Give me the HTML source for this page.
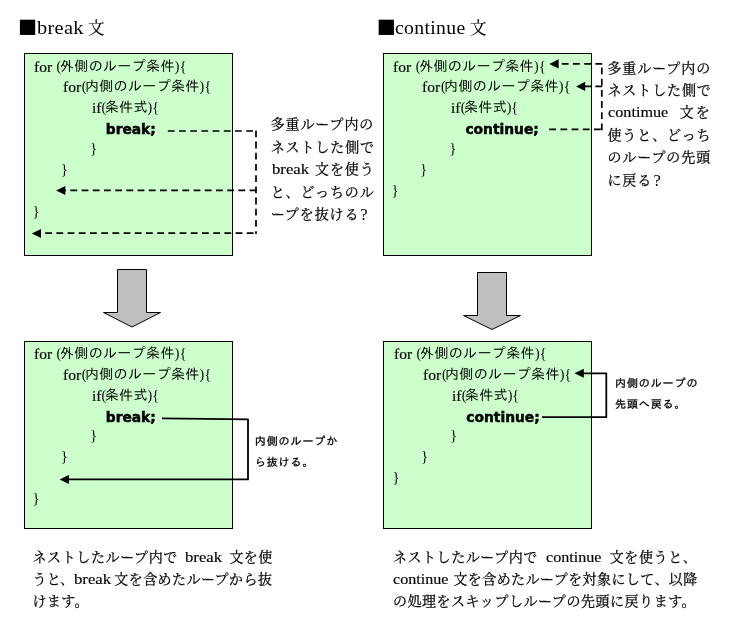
<!DOCTYPE html>
<html lang="ja">
<head>
<meta charset="utf-8">
<title>break 文 / continue 文</title>
<style>
html,body{margin:0;padding:0;background:#fff;}
body{width:732px;height:630px;position:relative;overflow:hidden;color:#000;
  font-family:"Liberation Serif","Noto Serif CJK SC",serif;}
.box{position:absolute;box-sizing:border-box;border:1px solid #000;background:#ccffcc;}
.txt{position:absolute;left:0;top:0;width:732px;height:630px;will-change:transform;}
.grp{position:absolute;left:0;top:0;width:0;height:0;}
.ln{position:absolute;white-space:pre;height:16px;width:0;}
.ln span{position:absolute;top:0;white-space:pre;line-height:16px;transform-origin:0 0;}
.hd{position:absolute;white-space:pre;height:20px;width:0;}
.hd span{position:absolute;top:0;line-height:20px;white-space:pre;transform-origin:0 0;}
.hs{font-family:"IPAGothic","Noto Sans CJK JP",sans-serif;font-size:20.6px;}
.hl{font-family:"Liberation Serif",serif;font-size:18px;letter-spacing:.3px;}
.hj{font-family:"Liberation Serif","Noto Serif CJK SC",serif;font-size:16.5px;-webkit-text-stroke:.2px #000;}
.cl{font-family:"Liberation Serif",serif;font-size:14.5px;transform:scaleX(1.07);-webkit-text-stroke:.15px #000;}
.cp{font-family:"Liberation Serif",serif;font-size:14px;}
.cj{font-family:"Liberation Serif","IPAGothic","Noto Sans CJK JP",sans-serif;font-size:14px;letter-spacing:.35px;}
.ck{font-family:"DejaVu Sans","Liberation Sans",sans-serif;font-weight:bold;font-size:13.8px;-webkit-text-stroke:.5px #000;}
.mj{font-family:"Liberation Serif","Noto Serif CJK SC",serif;font-size:14px;letter-spacing:.43px;-webkit-text-stroke:.25px #000;}
.nj{font-family:"Liberation Serif","Noto Serif CJK SC",serif;font-size:14px;letter-spacing:.9px;-webkit-text-stroke:.25px #000;}
.ml{font-family:"Liberation Serif",serif;font-size:14px;transform:scaleX(1.16);-webkit-text-stroke:.15px #000;}
.sj{font-family:"Liberation Sans","IPAGothic","Noto Sans CJK JP",sans-serif;font-size:11px;letter-spacing:.9px;-webkit-text-stroke:.3px #000;}
svg{position:absolute;left:0;top:0;}
</style>
</head>
<body>
<div class="box" style="left:24px;top:53px;width:209px;height:203px;"></div>
<div class="box" style="left:383px;top:53px;width:209px;height:203px;"></div>
<div class="box" style="left:24px;top:341px;width:209px;height:188px;"></div>
<div class="box" style="left:383px;top:341px;width:209px;height:188px;"></div>
<div class="txt">
<div class="grp heading">
<div class="hd" style="left:0;top:18px;"><span class="hs" style="left:17.2px;top:-1px;">■</span><span class="hl" style="left:36.6px;transform:scaleX(1.13);">break </span><span class="hj" style="left:88.1px;top:.5px;">文</span></div>
</div>
<div class="grp heading">
<div class="hd" style="left:0;top:18px;"><span class="hs" style="left:376.0px;top:-1px;">■</span><span class="hl" style="left:394.55px;transform:scaleX(1.095);">continue </span><span class="hj" style="left:469.9px;top:.5px;">文</span></div>
</div>
<div class="grp code">
<div class="ln" style="left:0;top:59px;"><span class="cl" style="left:33.85px;">for </span><span class="cp" style="left:56.5px;">(</span><span class="cj" style="left:59.95px;">外側のループ条件</span><span class="cp" style="left:174.8px;">)</span><span class="cp" style="left:179.75px;">{</span></div>
<div class="ln" style="left:0;top:79px;"><span class="cl" style="left:62.55px;">for</span><span class="cp" style="left:81.8px;">(</span><span class="cj" style="left:84.9px;">内側のループ条件</span><span class="cp" style="left:199.6px;">)</span><span class="cp" style="left:204.45px;">{</span></div>
<div class="ln" style="left:0;top:100px;"><span class="cl" style="left:92.25px;">if</span><span class="cp" style="left:101.6px;">(</span><span class="cj" style="left:104.75px;">条件式</span><span class="cp" style="left:147.6px;">)</span><span class="cp" style="left:152.15px;">{</span></div>
<div class="ln" style="left:0;top:121px;"><span class="ck" style="left:105.75px;">break;</span></div>
<div class="ln" style="left:0;top:141px;"><span class="cp" style="left:90.25px;">}</span></div>
<div class="ln" style="left:0;top:162px;"><span class="cp" style="left:61.05px;">}</span></div>
<div class="ln" style="left:0;top:203.5px;"><span class="cp" style="left:32.65px;">}</span></div>
</div>
<div class="grp code">
<div class="ln" style="left:0;top:59px;"><span class="cl" style="left:393.05px;">for </span><span class="cp" style="left:415.7px;">(</span><span class="cj" style="left:419.15px;">外側のループ条件</span><span class="cp" style="left:534.0px;">)</span><span class="cp" style="left:538.95px;">{</span></div>
<div class="ln" style="left:0;top:79px;"><span class="cl" style="left:421.75px;">for</span><span class="cp" style="left:441.0px;">(</span><span class="cj" style="left:444.1px;">内側のループ条件</span><span class="cp" style="left:558.8px;">)</span><span class="cp" style="left:563.65px;">{</span></div>
<div class="ln" style="left:0;top:100px;"><span class="cl" style="left:451.45px;">if</span><span class="cp" style="left:460.8px;">(</span><span class="cj" style="left:463.95px;">条件式</span><span class="cp" style="left:506.8px;">)</span><span class="cp" style="left:511.35px;">{</span></div>
<div class="ln" style="left:0;top:121px;"><span class="ck" style="left:465.45px;">continue;</span></div>
<div class="ln" style="left:0;top:141px;"><span class="cp" style="left:449.45px;">}</span></div>
<div class="ln" style="left:0;top:162px;"><span class="cp" style="left:420.25px;">}</span></div>
<div class="ln" style="left:0;top:183px;"><span class="cp" style="left:391.85px;">}</span></div>
</div>
<div class="grp code">
<div class="ln" style="left:0;top:346px;"><span class="cl" style="left:33.85px;">for </span><span class="cp" style="left:56.5px;">(</span><span class="cj" style="left:59.95px;">外側のループ条件</span><span class="cp" style="left:174.8px;">)</span><span class="cp" style="left:179.75px;">{</span></div>
<div class="ln" style="left:0;top:367px;"><span class="cl" style="left:62.55px;">for</span><span class="cp" style="left:81.8px;">(</span><span class="cj" style="left:84.9px;">内側のループ条件</span><span class="cp" style="left:199.6px;">)</span><span class="cp" style="left:204.45px;">{</span></div>
<div class="ln" style="left:0;top:388px;"><span class="cl" style="left:92.25px;">if</span><span class="cp" style="left:101.6px;">(</span><span class="cj" style="left:104.75px;">条件式</span><span class="cp" style="left:147.6px;">)</span><span class="cp" style="left:152.15px;">{</span></div>
<div class="ln" style="left:0;top:409px;"><span class="ck" style="left:105.75px;">break;</span></div>
<div class="ln" style="left:0;top:428px;"><span class="cp" style="left:90.25px;">}</span></div>
<div class="ln" style="left:0;top:449px;"><span class="cp" style="left:61.05px;">}</span></div>
<div class="ln" style="left:0;top:491px;"><span class="cp" style="left:32.65px;">}</span></div>
</div>
<div class="grp code">
<div class="ln" style="left:0;top:346px;"><span class="cl" style="left:393.95px;">for </span><span class="cp" style="left:416.6px;">(</span><span class="cj" style="left:420.05px;">外側のループ条件</span><span class="cp" style="left:534.9px;">)</span><span class="cp" style="left:539.85px;">{</span></div>
<div class="ln" style="left:0;top:367px;"><span class="cl" style="left:422.65px;">for</span><span class="cp" style="left:441.9px;">(</span><span class="cj" style="left:445.0px;">内側のループ条件</span><span class="cp" style="left:559.7px;">)</span><span class="cp" style="left:564.55px;">{</span></div>
<div class="ln" style="left:0;top:388px;"><span class="cl" style="left:452.35px;">if</span><span class="cp" style="left:461.7px;">(</span><span class="cj" style="left:464.85px;">条件式</span><span class="cp" style="left:507.7px;">)</span><span class="cp" style="left:512.25px;">{</span></div>
<div class="ln" style="left:0;top:409px;"><span class="ck" style="left:466.35px;">continue;</span></div>
<div class="ln" style="left:0;top:428px;"><span class="cp" style="left:450.35px;">}</span></div>
<div class="ln" style="left:0;top:449px;"><span class="cp" style="left:421.15px;">}</span></div>
<div class="ln" style="left:0;top:470px;"><span class="cp" style="left:392.75px;">}</span></div>
</div>
<div class="grp note">
<div class="ln" style="left:0;top:117px;"><span class="nj" style="left:270.65px;">多重ループ内の</span></div>
<div class="ln" style="left:0;top:140px;"><span class="nj" style="left:270.65px;">ネストした側で</span></div>
<div class="ln" style="left:0;top:162px;"><span class="ml" style="left:271.65px;transform:scaleX(1.195);">break </span><span class="nj" style="left:315.0px;">文を使う</span></div>
<div class="ln" style="left:0;top:185px;"><span class="nj" style="left:270.65px;">と、どっちのル</span></div>
<div class="ln" style="left:0;top:207px;"><span class="nj" style="left:270.65px;">ープを抜ける</span><span class="cp" style="left:360.15px;font-size:16.5px;">?</span></div>
</div>
<div class="grp note">
<div class="ln" style="left:0;top:61px;"><span class="nj" style="left:607.45px;">多重ループ内の</span></div>
<div class="ln" style="left:0;top:83px;"><span class="nj" style="left:607.45px;">ネストした側で</span></div>
<div class="ln" style="left:0;top:105px;"><span class="ml" style="left:607.7px;transform:scaleX(1.157);">contimue </span><span class="nj" style="left:679.8px;">文</span><span class="nj" style="left:695.75px;">を</span></div>
<div class="ln" style="left:0;top:128px;"><span class="nj" style="left:607.45px;">使うと、どっち</span></div>
<div class="ln" style="left:0;top:150px;"><span class="nj" style="left:607.45px;">のループの先頭</span></div>
<div class="ln" style="left:0;top:173px;"><span class="nj" style="left:607.45px;">に戻る</span><span class="cp" style="left:653.45px;font-size:16.5px;">?</span></div>
</div>
<div class="grp callout">
<div class="ln" style="left:0;top:433px;"><span class="sj" style="left:254.8px;">内側のループか</span></div>
<div class="ln" style="left:0;top:454px;"><span class="sj" style="left:254.8px;">ら抜ける。</span></div>
</div>
<div class="grp callout">
<div class="ln" style="left:0;top:375px;"><span class="sj" style="left:615.0px;">内側のループの</span></div>
<div class="ln" style="left:0;top:396px;"><span class="sj" style="left:615.0px;">先頭へ戻る。</span></div>
</div>
<div class="grp para">
<div class="ln" style="left:0;top:550px;"><span class="mj" style="left:32.4px;letter-spacing:.63px;">ネストしたループ内で </span><span class="ml" style="left:185.15px;transform:scaleX(1.195);">break </span><span class="mj" style="left:229.4px;">文を使</span></div>
<div class="ln" style="left:0;top:572px;"><span class="mj" style="left:32.4px;">うと</span><span class="mj" style="left:60.05px;">、</span><span class="ml" style="left:74.25px;transform:scaleX(1.195);">break </span><span class="mj" style="left:114.3px;">文を含めたループから抜</span></div>
<div class="ln" style="left:0;top:594px;"><span class="mj" style="left:32.4px;">けます。</span></div>
</div>
<div class="grp para">
<div class="ln" style="left:0;top:550px;"><span class="mj" style="left:392.9px;letter-spacing:.57px;">ネストしたループ内で </span><span class="ml" style="left:545.8px;transform:scaleX(1.15);">continue </span><span class="mj" style="left:609.7px;letter-spacing:.63px;">文を使うと、</span></div>
<div class="ln" style="left:0;top:572px;"><span class="ml" style="left:392.5px;transform:scaleX(1.15);">continue </span><span class="mj" style="left:453.4px;">文を含めたループを対象にして、以降</span></div>
<div class="ln" style="left:0;top:594px;"><span class="mj" style="left:392.9px;letter-spacing:.54px;">の処理をスキップしループの先頭に戻ります。</span></div>
</div>
</div>
<svg width="732" height="630" viewBox="0 0 732 630" aria-hidden="true">
  <polygon points="117.5,269.5 146.5,269.5 146.5,312.5 160.5,312.5 132,327 103.5,312.5 117.5,312.5" fill="#c0c0c0" stroke="#000" stroke-width="1"/>
  <polygon points="477.5,272.5 506.5,272.5 506.5,315.5 520.5,315.5 492,329.5 463.5,315.5 477.5,315.5" fill="#c0c0c0" stroke="#000" stroke-width="1"/>
  <g fill="none" stroke="#000" stroke-width="1.7" stroke-dasharray="6.8 4.4">
    <path d="M167.8,131 H257"/>
    <path d="M256,130.4 V234"/>
    <path d="M253.6,233.2 H40"/>
    <path d="M256.4,190.3 H64"/>
    <path d="M549.2,129.3 H602.7"/>
    <path d="M601.8,130.3 V63"/>
    <path d="M602.2,63.9 H558"/>
    <path d="M602.2,86.4 H584.5"/>
  </g>
  <g fill="#000" stroke="none">
    <polygon points="56,190.5 65.3,186 65.3,195.1"/>
    <polygon points="31.8,233.4 41,228.9 41,237.9"/>
    <polygon points="549.3,63.9 558.6,59.3 558.6,68.5"/>
    <polygon points="576.1,86.4 585.2,81.8 585.2,91"/>
    <polygon points="59.6,479.5 68.9,474.9 68.9,484.1"/>
    <polygon points="574.4,373.3 583.8,368.8 583.8,377.8"/>
  </g>
  <g fill="none" stroke="#000" stroke-width="1.8" stroke-linejoin="round">
    <path d="M162,418.4 L248,419.3 V479.4 H68"/>
    <path d="M542,417.2 H606.3 V373.3 H583"/>
  </g>
</svg>
</body>
</html>
